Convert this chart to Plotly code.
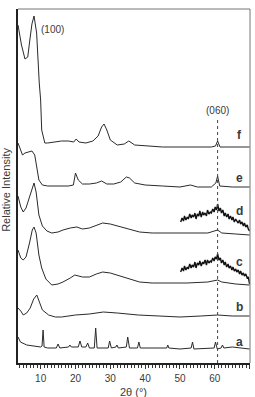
import plotly.graph_objects as go

# ---- data (2theta in degrees, relative intensity in arbitrary units) ----
f_x = [3.5, 4.5, 5.5, 6.3, 6.9, 7.5, 8.1, 8.85, 9.6, 10.0, 10.3, 11.2, 12, 14, 16, 18, 19.5, 20.2, 21, 23, 25, 26.5, 27.5, 28.2, 29, 30, 32, 34, 35.3, 37, 40, 45, 50, 55, 59, 60.2, 60.8, 61.5, 65, 70]
f_y = [338, 318, 304, 306, 323, 339, 347, 330, 280, 263, 233, 220, 220, 221, 222, 222, 221, 224, 221, 220, 222, 227, 236, 239, 233, 223, 218, 219, 222, 218, 217, 216, 216, 216, 216, 217, 222, 216, 216, 216]

e_x = [3.5, 4.0, 4.8, 5.5, 6.5, 7.5, 8.3, 8.9, 9.5, 10.5, 12, 15, 18, 19.4, 20.0, 20.8, 22, 24, 26, 27.5, 29, 31, 33, 34.6, 35.5, 37, 40, 45, 50, 53, 55, 59, 60.3, 60.8, 61.4, 65, 70]
e_y = [220, 215, 208, 210, 211, 212, 208, 195, 183, 178, 177, 177, 177, 178, 190, 183, 179, 179, 180, 182, 179, 179, 181, 186, 185, 180, 178, 177, 176, 178, 176, 176, 180, 187, 177, 176, 176]

d_x = [3.5, 4.3, 5.0, 5.8, 6.8, 7.6, 8.1, 8.7, 9.5, 10.5, 11.8, 13.2, 15, 16.4, 18.5, 20.4, 22, 24, 26, 27.8, 30, 32, 35, 38.4, 42, 47, 52, 58, 60.8, 62, 66, 70]
d_y = [167, 156, 151, 155, 166, 176, 180, 171, 148, 137, 132, 130, 131, 133, 135, 136, 134, 135, 138, 140, 139, 137, 134, 131, 130, 130, 130, 130, 133, 130, 129, 128]

c_x = [3.5, 4.3, 5.0, 5.8, 6.8, 7.6, 8.1, 8.7, 9.5, 10.3, 11.5, 13.2, 15, 16.4, 18.5, 19.8, 22, 24, 26, 27.8, 30, 32, 35, 38.4, 42, 47, 52, 58, 60.8, 62, 66, 70]
c_y = [113, 105, 103, 106, 120, 133, 136, 130, 108, 95, 84, 78, 79, 81, 85, 88, 86, 86, 89, 91, 90, 88, 85, 81, 80, 80, 80, 81, 83, 81, 79, 78]

b_x = [3.5, 4.3, 5.0, 6.0, 7.0, 8.0, 8.9, 9.6, 10.5, 12.3, 14.2, 16, 20, 24, 28, 32, 38, 44, 50, 56, 60.8, 65, 70]
b_y = [55, 52, 48, 50, 55, 64, 68, 61, 53, 48, 46, 46, 48, 49, 51, 50, 48, 47, 46, 47, 48, 47, 47]

a_x = [3.5, 4.2, 6, 8, 10.0, 10.4, 10.7, 11.0, 12, 14.5, 15.0, 15.5, 18, 18.4, 18.8, 20.8, 21.3, 21.8, 23.0, 23.5, 24.0, 25.4, 25.8, 26.2, 29.4, 29.8, 30.3, 31.6, 31.9, 32.3, 34.6, 35.0, 35.5, 37.8, 38.2, 38.6, 42, 46.2, 46.5, 46.8, 50, 53.2, 53.6, 54.0, 59.8, 60.2, 60.7, 61.8, 62.2, 62.6, 65, 70]
a_y = [26, 21, 18, 17, 16, 17, 33, 16, 15, 15, 19, 15, 16, 18, 16, 16, 22, 16, 16, 20, 15, 15, 35, 15, 15, 22, 15, 16, 18, 15, 16, 26, 15, 15, 21, 15, 15, 15, 18, 15, 14, 15, 21, 14, 15, 21, 14, 15, 18, 15, 16, 14]

# magnified (060) region insets for samples d and c
inset_x = [50.2, 50.6, 51.0, 51.3, 51.7, 52.1, 52.4, 52.8, 53.2, 53.5, 53.9, 54.3, 54.6, 55.0, 55.4, 55.7, 56.1, 56.5, 56.8, 57.2, 57.6, 57.9, 58.3, 58.7, 59.0, 59.4, 59.8, 60.1, 60.5, 60.8, 61.2, 61.6, 61.9, 62.3, 62.7, 63.0, 63.4, 63.8, 64.1, 64.5, 64.9, 65.2, 65.6, 66.0, 66.3, 66.7, 67.1, 67.4, 67.8, 68.2, 68.5, 68.9, 69.3, 69.6, 70.0]
d_inset_y = [141, 145, 142, 147, 143, 146, 144, 149, 145, 148, 146, 150, 144, 149, 147, 152, 146, 151, 148, 150, 147, 153, 149, 151, 150, 154, 151, 156, 153, 159, 152, 155, 150, 153, 147, 150, 146, 149, 144, 147, 143, 146, 141, 144, 142, 140, 143, 139, 141, 137, 140, 136, 138, 134, 132]
c_inset_y = [91, 95, 92, 97, 93, 96, 94, 99, 95, 98, 96, 101, 95, 100, 98, 102, 97, 101, 99, 103, 98, 103, 100, 102, 101, 105, 102, 106, 104, 109, 103, 105, 100, 103, 98, 101, 96, 99, 95, 97, 93, 96, 92, 94, 91, 93, 89, 92, 88, 90, 87, 89, 85, 86, 79]

sample_labels = ["f", "e", "d", "c", "b", "a"]
label_y = [228, 185, 152, 101, 56, 21]
x_ticks = [10, 20, 30, 40, 50, 60, 70]
peak_060 = 60.8

LINE = "#2a2a2a"
TXT = "#3a3a3a"
FONT = "Liberation Sans, Arial"

fig = go.Figure()
for xs, ys in [(f_x, f_y), (e_x, e_y), (d_x, d_y), (c_x, c_y), (b_x, b_y), (a_x, a_y)]:
    fig.add_trace(go.Scatter(x=xs, y=ys, mode="lines", line=dict(color=LINE, width=1), showlegend=False))
for ys in [d_inset_y, c_inset_y]:
    fig.add_trace(go.Scatter(x=inset_x, y=ys, mode="lines", line=dict(color="#111", width=1.4), showlegend=False))

fig.add_shape(type="line", x0=peak_060, x1=peak_060, y0=0, y1=246, xref="x", yref="y",
              line=dict(color="#444", width=1, dash="dot"))
# top and right frame lines
fig.add_shape(type="line", x0=0, x1=1, y0=1, y1=1, xref="paper", yref="paper", line=dict(color="#777", width=1))
fig.add_shape(type="line", x0=1, x1=1, y0=0, y1=1, xref="paper", yref="paper", line=dict(color="#777", width=1))

for lab, ly in zip(sample_labels, label_y):
    fig.add_annotation(x=67.1, y=ly, text="<b>%s</b>" % lab, showarrow=False,
                       font=dict(family=FONT, size=12, color=TXT))
fig.add_annotation(x=13.5, y=334, text="(100)", showarrow=False, font=dict(family=FONT, size=10, color=TXT))
fig.add_annotation(x=60.9, y=253, text="(060)", showarrow=False, font=dict(family=FONT, size=10, color=TXT))
fig.add_annotation(x=-0.052, y=0.489, xref="paper", yref="paper", text="Relative Intensity",
                   textangle=-90, showarrow=False, xanchor="center", yanchor="middle",
                   font=dict(family=FONT, size=11, color=TXT))
fig.add_annotation(x=0.496, y=-0.081, xref="paper", yref="paper", text="2θ (°)",
                   showarrow=False, xanchor="center", yanchor="middle",
                   font=dict(family=FONT, size=11, color=TXT))

fig.update_layout(
    width=255, height=397,
    margin=dict(l=18, r=5, t=9, b=34),
    paper_bgcolor="white", plot_bgcolor="white",
    xaxis=dict(range=[3.5, 70.1], tickmode="array", tickvals=x_ticks, ticktext=[str(v) for v in x_ticks],
               ticks="outside", ticklen=4, tickwidth=1, tickcolor="#333", ticklabelstandoff=1,
               minor=dict(dtick=1, tick0=0, ticks="outside", ticklen=3, tickcolor="#333", showgrid=False),
               showline=True, linecolor="#222", linewidth=1.5, showgrid=False, zeroline=False,
               tickfont=dict(family=FONT, size=10, color=TXT)),
    yaxis=dict(range=[0, 354], showticklabels=False, ticks="", showline=True, linecolor="#222",
               linewidth=2, showgrid=False, zeroline=False),
)
fig.write_html("out.html")
